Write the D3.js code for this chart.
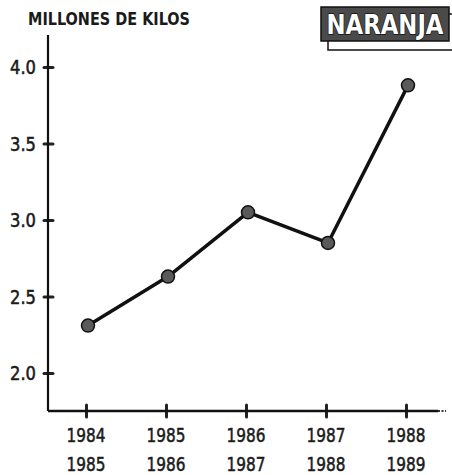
<!DOCTYPE html>
<html>
<head>
<meta charset="utf-8">
<script src="https://cdn.jsdelivr.net/npm/d3@7"></script>
<style>
  body { margin: 0; background: #fff; }
  text { font-family: "DejaVu Sans Condensed", "DejaVu Sans", sans-serif; fill: #1a1a1a; }
  .lbl { stroke: #1a1a1a; stroke-width: 0.5px; }
</style>
</head>
<body>
<div id="chart"></div>
<script>
// campaigns and production (millions of kilos)
var seasonsStart = ["1984", "1985", "1986", "1987", "1988"];
var seasonsEnd = ["1985", "1986", "1987", "1988", "1989"];
var kilos = [2.31, 2.63, 3.05, 2.85, 3.88];
var yTicks = [2.0, 2.5, 3.0, 3.5, 4.0];

var width = 452, height = 475;
var axisX = 48, axisY = 411;

var svg = d3.select("#chart").append("svg")
    .attr("width", width)
    .attr("height", height);

var x = d3.scalePoint()
    .domain(seasonsStart)
    .range([86, 406]);

var y = d3.scaleLinear()
    .domain([2, 4])
    .range([373, 67]);

// title
svg.append("text")
    .attr("x", 28)
    .attr("y", 25)
    .attr("font-size", 17)
    .style("font-weight", "bold")
    .attr("textLength", 162)
    .attr("lengthAdjust", "spacingAndGlyphs")
    .text("MILLONES DE KILOS");

// NARANJA label box with offset shadow
svg.append("rect")
    .attr("x", 328).attr("y", 14)
    .attr("width", 130).attr("height", 36)
    .attr("fill", "#fff").attr("stroke", "#111").attr("stroke-width", 1.5);
svg.append("rect")
    .attr("x", 321).attr("y", 7)
    .attr("width", 128).attr("height", 34)
    .attr("fill", "#4a4a4a").attr("stroke", "#111").attr("stroke-width", 1.5);
svg.append("text")
    .attr("x", 385)
    .attr("y", 34)
    .attr("text-anchor", "middle")
    .attr("font-size", 26)
    .style("font-weight", "bold")
    .attr("textLength", 117)
    .attr("lengthAdjust", "spacingAndGlyphs")
    .style("fill", "#fff")
    .style("stroke", "#111")
    .style("stroke-width", 1.3)
    .style("paint-order", "stroke")
    .text("NARANJA");

// y axis
var yAxis = d3.axisLeft(y).tickValues(yTicks).tickFormat(d3.format(".1f")).tickSize(0);
var gy = svg.append("g")
    .attr("transform", "translate(" + axisX + ",0)")
    .call(yAxis);
gy.select(".domain").remove();
gy.selectAll(".tick line")
    .attr("x1", -4).attr("x2", 5)
    .attr("stroke", "#222").attr("stroke-width", 3).attr("stroke-linecap", "round");
gy.selectAll(".tick text")
    .attr("class", "lbl")
    .attr("x", -12)
    .attr("dy", "0.36em")
    .attr("font-size", 19)
    .attr("font-family", null)
    .attr("fill", null)
    .attr("textLength", 26)
    .attr("lengthAdjust", "spacingAndGlyphs");
svg.append("line")
    .attr("x1", axisX).attr("x2", axisX)
    .attr("y1", 35).attr("y2", axisY)
    .attr("stroke", "#111").attr("stroke-width", 2.2);

// x axis
var xAxis = d3.axisBottom(x).tickSize(0).tickFormat("");
var gx = svg.append("g")
    .attr("transform", "translate(0," + axisY + ")")
    .call(xAxis);
gx.select(".domain").remove();
gx.selectAll(".tick line")
    .attr("y1", -6).attr("y2", 6)
    .attr("stroke", "#222").attr("stroke-width", 3).attr("stroke-linecap", "round");
svg.append("line")
    .attr("x1", axisX).attr("x2", 438)
    .attr("y1", axisY).attr("y2", axisY)
    .attr("stroke", "#111").attr("stroke-width", 2.5);
svg.append("line")
    .attr("x1", 438).attr("x2", 446)
    .attr("y1", axisY).attr("y2", axisY)
    .attr("stroke", "#333").attr("stroke-width", 2)
    .attr("stroke-dasharray", "2,1.5");

// two-row season labels
var labels = svg.append("g");
labels.selectAll(".l1")
    .data(seasonsStart)
    .enter().append("text")
    .attr("class", "lbl")
    .attr("x", function(d) { return x(d); })
    .attr("y", 442)
    .attr("text-anchor", "middle")
    .attr("font-size", 20)
    .attr("textLength", 39)
    .attr("lengthAdjust", "spacingAndGlyphs")
    .text(function(d) { return d; });
labels.selectAll(".l2")
    .data(seasonsEnd)
    .enter().append("text")
    .attr("class", "lbl")
    .attr("x", function(d, i) { return x(seasonsStart[i]); })
    .attr("y", 471)
    .attr("text-anchor", "middle")
    .attr("font-size", 20)
    .attr("textLength", 39)
    .attr("lengthAdjust", "spacingAndGlyphs")
    .text(function(d) { return d; });

// line and points
var data = seasonsStart.map(function(d, i) { return { season: d, value: kilos[i] }; });

var line = d3.line()
    .x(function(d) { return x(d.season) + 2; })
    .y(function(d) { return y(d.value); });

svg.append("path")
    .datum(data)
    .attr("d", line)
    .attr("fill", "none")
    .attr("stroke", "#111")
    .attr("stroke-width", 3.5)
    .attr("stroke-linejoin", "round");

svg.selectAll(".dot")
    .data(data)
    .enter().append("circle")
    .attr("class", "dot")
    .attr("cx", function(d) { return x(d.season) + 2; })
    .attr("cy", function(d) { return y(d.value); })
    .attr("r", 6.5)
    .attr("fill", "#5a5a5a")
    .attr("stroke", "#111")
    .attr("stroke-width", 1.5);
</script>
</body>
</html>
